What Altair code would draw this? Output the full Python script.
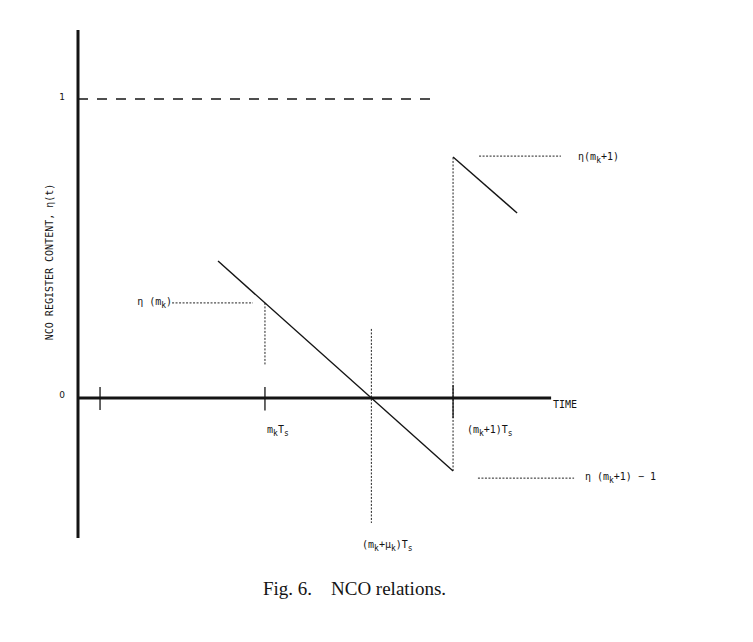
import altair as alt
import pandas as pd

# ---- data (time in units of T_s, eta = NCO register content) ----
time_axis_t = [0.0, 2.49]
eta_axis = [-0.468, 1.231]

tick_t = [0.116, 0.984, 1.974]
tick_hi = [0.037, 0.037, 0.043]
tick_lo = [-0.040, -0.042, -0.067]

ramp_t0 = [0.737, 1.974]
ramp_t1 = [1.974, 2.311]
ramp_e0 = [0.458, 0.806]
ramp_e1 = [-0.244, 0.619]

one_t = [0.0, 1.889]
one_eta = [1.0, 1.0]

dot_t0 = [0.495, 0.984, 1.544, 1.974, 2.111, 2.105]
dot_t1 = [0.921, 0.984, 1.544, 1.974, 2.542, 2.611]
dot_e0 = [0.318, 0.318, 0.231, -0.244, 0.809, -0.268]
dot_e1 = [0.318, 0.110, -0.418, 0.806, 0.809, -0.268]

# labels as runs of (text, is_subscript)
label_runs = [
    [("TIME", 0)],
    [("m", 0), ("k", 1), ("T", 0), ("s", 1)],
    [("(m", 0), ("k", 1), ("+1)T", 0), ("s", 1)],
    [("(m", 0), ("k", 1), ("+μ", 0), ("k", 1), (")T", 0), ("s", 1)],
    [("η(m", 0), ("k", 1), ("+1)", 0)],
    [("η\u00a0(m", 0), ("k", 1), ("+1)\u00a0−\u00a01", 0)],
    [("η\u00a0(m", 0), ("k", 1), (")", 0)],
]
label_t = [2.50, 0.995, 2.047, 1.495, 2.632, 2.668, 0.495]
label_eta = [-0.023, -0.107, -0.107, -0.492, 0.806, -0.264, 0.320]
label_align = ["left", "left", "left", "left", "left", "left", "right"]

level_labels = ["1", "0"]
level_t = [-0.084, -0.084]
level_eta = [1.007, 0.010]

y_title = "NCO REGISTER CONTENT, η(t)".replace(" ", "\u00a0")
y_title_t = -0.147
y_title_eta = 0.455

caption = "Fig.\u00a06.\u00a0\u00a0\u00a0\u00a0NCO\u00a0relations."
caption_t = 1.455
caption_eta = -0.639

# ---- scales ----
W, H = 737, 626
T_MIN, T_MAX = -0.3684, 3.5105
E_MIN, E_MAX = -0.7893, 1.3043
PX_T = W / (T_MAX - T_MIN)
PX_E = H / (E_MAX - E_MIN)
xs = alt.Scale(domain=[T_MIN, T_MAX], nice=False, zero=False)
ys = alt.Scale(domain=[E_MIN, E_MAX], nice=False, zero=False)

def X(f="t"):
    return alt.X(f + ":Q", scale=xs, axis=None)

def Y(f="eta"):
    return alt.Y(f + ":Q", scale=ys, axis=None)

ink = "#141414"
MAIN_FS, SUB_FS = 10, 8
CW = 0.602  # DejaVu Sans Mono advance per em

# lay out text runs
rows = []
for runs, t0, e0, al in zip(label_runs, label_t, label_eta, label_align):
    widths = [len(txt) * CW * (SUB_FS if sub else MAIN_FS) for txt, sub in runs]
    total = sum(widths)
    px = {"left": 0.0, "right": -total, "center": -total / 2}[al]
    for (txt, sub), w in zip(runs, widths):
        rows.append({
            "t": t0 + px / PX_T,
            "eta": e0 - (4.0 / PX_E if sub else 0.0),
            "label": txt,
            "fs": SUB_FS if sub else MAIN_FS,
        })
        px += w
runs_df = pd.DataFrame(rows)

axes_df = pd.DataFrame({
    "t": [time_axis_t[0], 0.0],
    "t2": [time_axis_t[1], 0.0],
    "eta": [0.0, eta_axis[0]],
    "eta2": [0.0, eta_axis[1]],
})
axes = alt.Chart(axes_df).mark_rule(color=ink, strokeWidth=3).encode(
    x=X(), x2="t2:Q", y=Y(), y2="eta2:Q")

ticks_df = pd.DataFrame({"t": tick_t, "eta": tick_lo, "eta2": tick_hi})
ticks = alt.Chart(ticks_df).mark_rule(color=ink, strokeWidth=1.3).encode(
    x=X(), y=Y(), y2="eta2:Q")

ramp_df = pd.DataFrame({"t": ramp_t0, "t2": ramp_t1, "eta": ramp_e0, "eta2": ramp_e1})
ramps = alt.Chart(ramp_df).mark_rule(color=ink, strokeWidth=1.4).encode(
    x=X(), x2="t2:Q", y=Y(), y2="eta2:Q")

one_df = pd.DataFrame({"t": [one_t[0]], "t2": [one_t[1]], "eta": [one_eta[0]], "eta2": [one_eta[1]]})
one_line = alt.Chart(one_df).mark_rule(color=ink, strokeWidth=1.5, strokeDash=[10, 9]).encode(
    x=X(), x2="t2:Q", y=Y(), y2="eta2:Q")

dot_df = pd.DataFrame({"t": dot_t0, "t2": dot_t1, "eta": dot_e0, "eta2": dot_e1})
dots = alt.Chart(dot_df).mark_rule(color="#222", strokeWidth=1, strokeDash=[2, 1.5]).encode(
    x=X(), x2="t2:Q", y=Y(), y2="eta2:Q")

lab_font = "DejaVu Sans Mono"
labels = alt.Chart(runs_df).mark_text(align="left", baseline="middle", font=lab_font,
                                      color=ink).encode(
    x=X(), y=Y(), text="label:N", size=alt.Size("fs:Q", scale=None, legend=None))

level_df = pd.DataFrame({"t": level_t, "eta": level_eta, "label": level_labels})
level_txt = alt.Chart(level_df).mark_text(align="center", baseline="middle", font="DejaVu Sans",
                                          fontSize=9, color=ink).encode(x=X(), y=Y(), text="label:N")

ytitle_df = pd.DataFrame({"t": [y_title_t], "eta": [y_title_eta], "label": [y_title]})
ytitle_txt = alt.Chart(ytitle_df).mark_text(align="center", baseline="middle", font=lab_font,
                                            fontSize=10, angle=270, color=ink).encode(x=X(), y=Y(), text="label:N")

cap_df = pd.DataFrame({"t": [caption_t], "eta": [caption_eta], "label": [caption]})
cap_txt = alt.Chart(cap_df).mark_text(align="center", baseline="middle", font="Liberation Serif",
                                      fontSize=19, color=ink).encode(x=X(), y=Y(), text="label:N")

chart = alt.layer(
    one_line, dots, axes, ticks, ramps,
    labels, level_txt, ytitle_txt, cap_txt,
).properties(width=W, height=H, padding=0).configure_view(stroke=None)

chart.save("out.html", embed_options={"renderer": "svg", "actions": False})
